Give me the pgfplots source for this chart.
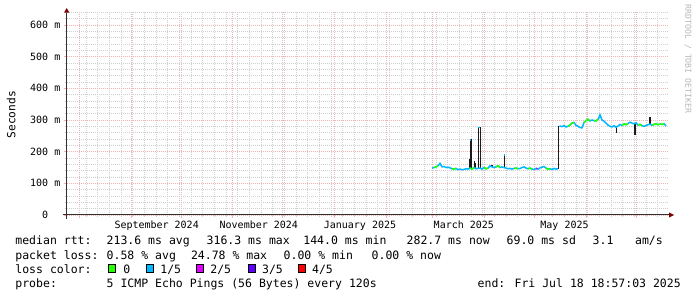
\documentclass[border=0pt]{standalone}
\usepackage{pgfplots}
\pgfplotsset{compat=1.18}
\usepackage{fontspec}
\setmainfont{DejaVu Sans Mono}
\definecolor{lc0}{HTML}{26FF00}
\definecolor{lc1}{HTML}{00B8FF}
\definecolor{lc2}{HTML}{DD00FF}
\definecolor{lc3}{HTML}{5E00FF}
\definecolor{lc4}{HTML}{FF0000}
\definecolor{mgrid}{HTML}{F0B4B4}
\definecolor{mingrid}{HTML}{D0D0D0}
\definecolor{arrowc}{HTML}{7F0000}
\definecolor{axisc}{HTML}{303030}
\definecolor{smoke}{HTML}{1A1A1A}
\newcommand{\lgf}{\fontsize{11.5}{14}\selectfont}
\newcommand{\axf}{\fontsize{10}{12}\selectfont}
\begin{document}
\begin{tikzpicture}[x=1pt,y=1pt]
\fill[white] (0,0) rectangle (697,297);
\useasboundingbox (0,0) rectangle (697,297);
\begin{axis}[
  at={(66.7pt,82pt)}, anchor=south west,
  scale only axis, width=601.5pt, height=202.7pt,
  xmin=-7.56, xmax=353.3, ymin=0, ymax=640,
  axis line style={draw=none},
  xtick pos=bottom, ytick pos=left,
  tick align=outside,
  major tick length=3pt, minor tick length=2pt,
  major tick style={draw=mgrid, line width=0.8pt},
  minor tick style={draw=mingrid, line width=0.8pt},
  grid=both,
  major grid style={draw=mgrid, line width=0.8pt, dash pattern=on 1pt off 1pt},
  minor grid style={draw=mingrid, line width=0.8pt, dash pattern=on 1pt off 1pt},
  xtick={0,31,61,92,122,153,184,212,243,273,304,334},
  xticklabels={},
  minor xtick={4,11,...,351},
  extra x ticks={46.4,107.7,168.4,230.7,291.1},
  extra x tick labels={September 2024,November 2024,January 2025,March 2025,May 2025},
  extra x tick style={grid=none, major tick length=0pt},
  xticklabel style={font=\axf, anchor=base, inner sep=0pt, yshift=-13.3pt},
  ytick={0,100,200,300,400,500,600},
  yticklabels={0\phantom{\ m},100 m,200 m,300 m,400 m,500 m,600 m},
  minor ytick={20,40,60,80,120,140,160,180,220,240,260,280,320,340,360,380,420,440,460,480,520,540,560,580,620,640},
  yticklabel style={font=\axf, anchor=east, inner sep=0pt, xshift=-3.2pt},
  unbounded coords=jump,
  clip=false
]
% smoke spikes
\addplot[smoke, line width=1.5pt] coordinates {
(234.0,146)(234.0,176) (234.0,nan)
(234.6,146)(234.6,237)(235.2,237)(235.2,146) (235.2,nan)
(237.0,147)(237.0,171) (237.0,nan)
(237.8,147)(237.8,165) (237.8,nan)
(239.4,147)(239.4,277)(240.6,277)(240.6,147) (240.6,nan)
(247.6,150)(247.6,158) (247.6,nan)
(255.2,149)(255.2,189) (255.2,nan)
(287.6,146)(287.6,281) (287.6,nan)
(322.4,280)(322.4,258) (322.4,nan)
(333.4,289)(333.4,253) (333.4,nan)
(342.4,286)(342.4,310)
};
% median, 1/5 loss colour
\addplot[lc1, line width=1.5pt] coordinates {
(211.6,148)(212.8,150)(214.0,152)(215.2,155)(216.4,163)(217.6,152)(218.8,153)(220.0,150)
(221.2,151)(222.4,149)(223.6,146)(224.8,145)(226.0,147)(227.2,143)(228.4,145)(229.6,143)
(230.8,144)(232.0,146)(233.2,145)(234.4,148)(235.6,145)(236.8,150)(238.0,146)(239.2,147)
(240.4,148)(241.6,145)(242.8,150)(244.0,146)(245.2,148)(246.4,155)(247.6,152)(248.8,150)
(250.0,152)(251.2,155)(252.4,150)(253.6,152)(254.8,150)(256.0,148)(257.2,146)(258.4,147)
(259.6,145)(260.8,147)(262.0,148)(263.2,146)(264.4,147)(265.6,150)(266.8,152)(268.0,148)
(269.2,146)(270.4,148)(271.6,145)(272.8,144)(274.0,147)(275.2,145)(276.4,149)(277.6,151)
(278.8,153)(280.0,148)(281.2,145)(282.4,146)(283.6,144)(284.8,147)(286.0,145)(287.2,146)
};
\addplot[lc1, line width=1.5pt] coordinates {
(288.0,281)(288.4,281)(289.6,279)(290.8,282)(292.0,278)(293.2,280)(294.4,284)(295.6,290)
(296.8,292)(298.0,283)(299.2,280)(300.4,276)(301.6,275)(302.8,292)(304.0,298)(305.2,302)
(306.4,297)(307.6,300)(308.8,298)(310.0,297)(311.2,302)(312.4,316)(313.6,300)(314.8,296)
(316.0,290)(317.2,284)(318.4,280)(319.6,278)(320.8,282)(322.0,277)(323.2,281)(324.4,286)
(325.6,283)(326.8,288)(328.0,285)(329.2,289)(330.4,293)(331.6,290)(332.8,288)(334.0,291)
(335.2,284)(336.4,286)(337.6,282)(338.8,280)(340.0,283)(341.2,285)(342.4,287)(343.6,283)
(344.8,286)(346.0,288)(347.2,285)(348.4,287)(349.6,286)(350.8,288)(352.0,281)
};
% caps of spikes
\addplot[lc1, line width=1.5pt] coordinates {(234.6,237)(235.2,237) (235.2,nan) (239.4,277)(240.6,277) (240.6,nan) (255.0,189)(255.4,189)};
% median, no loss
\addplot[lc0, line width=1.5pt] coordinates {
(212.8,150)(214.0,152)(215.2,155) (215.2,nan)
(223.6,146)(224.8,145)(226.0,147) (226.0,nan)
(234.4,148)(235.6,145)(236.8,150) (236.8,nan)
(242.8,150)(244.0,146)(245.2,148) (245.2,nan)
(250.0,152)(251.2,155)(252.4,150) (252.4,nan)
(260.8,147)(262.0,148)(263.2,146) (263.2,nan)
(269.2,146)(270.4,148)(271.6,145) (271.6,nan)
(280.0,148)(281.2,145)(282.4,146) (282.4,nan)
(293.2,280)(294.4,284)(295.6,290)(296.8,292) (296.8,nan)
(302.8,292)(304.0,298)(305.2,302)(306.4,297) (306.4,nan)
(308.8,298)(310.0,297)(311.2,302) (311.2,nan)
(325.6,283)(326.8,288)(328.0,285)(329.2,289) (329.2,nan)
(335.2,284)(336.4,286)(337.6,282) (337.6,nan)
(343.6,283)(344.8,286)(346.0,288)(347.2,285)(348.4,287)(349.6,286)(350.8,288)
};
% median, 2/5 loss
\addplot[lc2, line width=1.5pt] coordinates {(274.0,147)(274.8,146)};
\end{axis}
% axes with arrows
\draw[axisc, line width=1pt] (62.7,82) -- (669,82);
\fill[arrowc] (669,84.6) -- (669,79.4) -- (674.2,82) -- cycle;
\draw[axisc, line width=1pt] (66.7,78) -- (66.7,284.4);
\fill[arrowc] (64.1,284.4) -- (69.3,284.4) -- (66.7,289) -- cycle;
% y label and watermark
\node[rotate=90, font=\fontsize{11.2}{13}\selectfont, inner sep=0pt] at (11.2,182.2) {Seconds};
\node[rotate=-90, font=\fontsize{8.2}{10}\selectfont, text=black!28, inner sep=0pt] at (688,238) {RRDTOOL / TOBI OETIKER};
% legend
\begin{scope}[every node/.style={anchor=base west, inner sep=0pt, font=\lgf}]
\node at (15.2,52) {median rtt:};
\node at (106.5,52) {213.6 ms avg};
\node at (206.5,52) {316.3 ms max};
\node at (303.2,52) {144.0 ms min};
\node at (406.5,52) {282.7 ms now};
\node at (506.5,52) {69.0 ms sd};
\node at (592.5,52) {3.1};
\node at (634.9,52) {am/s};
\node at (15.2,37.8) {packet loss:};
\node at (106.5,37.8) {0.58 \% avg};
\node at (190.8,37.8) {24.78 \% max};
\node at (283.5,37.8) {0.00 \% min};
\node at (371.5,37.8) {0.00 \% now};
\node at (15.2,23.6) {loss color:};
\node at (123.2,23.6) {0};
\node at (160.2,23.6) {1/5};
\node at (210.2,23.6) {2/5};
\node at (261.9,23.6) {3/5};
\node at (311.9,23.6) {4/5};
\node at (15.2,9.4) {probe:};
\node at (106.5,9.4) {5 ICMP Echo Pings (56 Bytes) every 120s};
\node at (477.5,9.4) {end: Fri Jul 18 18:57:03 2025};
\end{scope}
\filldraw[fill=lc0, draw=black, line width=0.7pt] (108.6,24.6) rectangle (115.8,32.4);
\filldraw[fill=lc1, draw=black, line width=0.7pt] (146.3,24.6) rectangle (153.5,32.4);
\filldraw[fill=lc2, draw=black, line width=0.7pt] (196.3,24.6) rectangle (203.5,32.4);
\filldraw[fill=lc3, draw=black, line width=0.7pt] (248.0,24.6) rectangle (255.2,32.4);
\filldraw[fill=lc4, draw=black, line width=0.7pt] (298.0,24.6) rectangle (305.2,32.4);
\end{tikzpicture}
\end{document}
